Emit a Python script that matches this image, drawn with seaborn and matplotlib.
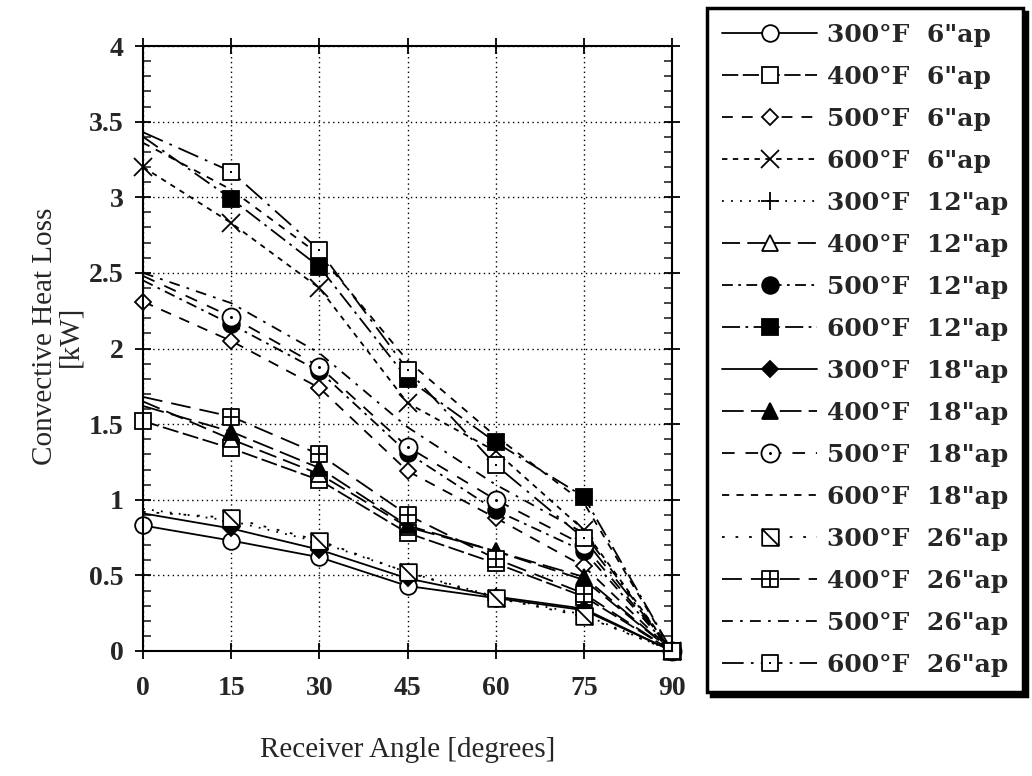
import numpy as np
import pandas as pd
import matplotlib
matplotlib.use("Agg")
import matplotlib.pyplot as plt
import seaborn as sns
from matplotlib.path import Path
from matplotlib.ticker import MultipleLocator, FuncFormatter

# receiver angle [degrees]
angle = [0, 15, 30, 45, 60, 75, 90]

# convective heat loss [kW] per temperature / aperture
loss_300_6 = [0.83, 0.73, 0.62, 0.43, 0.35, 0.27, 0.0]
loss_400_6 = [1.52, 1.34, 1.13, 0.78, 0.58, 0.36, 0.0]
loss_500_6 = [2.31, 2.05, 1.74, 1.19, 0.88, 0.56, 0.0]
loss_600_6 = [3.20, 2.83, 2.40, 1.64, 1.32, 0.80, 0.0]
loss_300_12 = [0.94, 0.86, 0.72, 0.52, 0.36, 0.24, 0.0]
loss_400_12 = [1.65, 1.40, 1.17, 0.82, 0.66, 0.47, 0.0]
loss_500_12 = [2.45, 2.16, 1.85, 1.31, 0.93, 0.66, 0.0]
loss_600_12 = [3.40, 2.99, 2.54, 1.80, 1.38, 1.02, 0.0]
loss_300_18 = [0.91, 0.81, 0.67, 0.48, 0.36, 0.28, 0.0]
loss_400_18 = [1.62, 1.45, 1.21, 0.83, 0.66, 0.49, 0.0]
loss_500_18 = [2.48, 2.21, 1.88, 1.35, 1.00, 0.70, 0.0]
loss_600_18 = [3.36, 3.05, 2.62, 1.92, 1.42, 0.98, 0.0]
loss_300_26 = [0.92, 0.88, 0.73, 0.52, 0.35, 0.23, 0.0]
loss_400_26 = [1.68, 1.55, 1.30, 0.90, 0.61, 0.38, 0.0]
loss_500_26 = [2.50, 2.30, 1.97, 1.48, 1.10, 0.78, 0.0]
loss_600_26 = [3.43, 3.17, 2.65, 1.86, 1.23, 0.745, 0.0]

temps = ["300", "400", "500", "600"]
apertures = ["6", "12", "18", "26"]
x_ticks = [0, 15, 30, 45, 60, 75, 90]
y_ticks = [0, 0.5, 1, 1.5, 2, 2.5, 3, 3.5, 4]


# open square markers with something drawn inside
def box(extra):
    verts = [(-1, -1), (1, -1), (1, 1), (-1, 1), (-1, -1)]
    codes = [Path.MOVETO, Path.LINETO, Path.LINETO, Path.LINETO, Path.CLOSEPOLY]
    for a, b in extra:
        verts += [a, b]
        codes += [Path.MOVETO, Path.LINETO]
    return Path(verts, codes)


dot = [((-0.13, 0), (0.13, 0)), ((0, -0.13), (0, 0.13))]
sq_diag = box([((-1, 1), (1, -1))])
sq_grid = box([((0, -1), (0, 1)), ((-1, 0), (1, 0))])
sq_dot = box(dot)
circ_dot = Path.make_compound_path(
    Path.unit_circle(),
    Path([(-0.13, 0), (0.13, 0), (0, -0.13), (0, 0.13)],
         [Path.MOVETO, Path.LINETO, Path.MOVETO, Path.LINETO]))

# temp, aperture, data, linestyle, marker, filled, markersize
series = [
    ("300", "6", loss_300_6, "-", "o", False, 12),
    ("400", "6", loss_400_6, (0, (9, 2.5)), "s", False, 11),
    ("500", "6", loss_500_6, (0, (6, 5)), "D", False, 8),
    ("600", "6", loss_600_6, (0, (3, 3)), "x", False, 13),
    ("300", "12", loss_300_12, (0, (1, 4)), "+", False, 13),
    ("400", "12", loss_400_12, (0, (10, 4)), "^", False, 11),
    ("500", "12", loss_500_12, (0, (6, 3, 1.5, 3)), "o", True, 12),
    ("600", "12", loss_600_12, (0, (10, 3, 1.5, 3)), "s", True, 12),
    ("300", "18", loss_300_18, "-", "D", True, 8),
    ("400", "18", loss_400_18, (0, (12, 4)), "^", True, 11),
    ("500", "18", loss_500_18, (0, (7, 6)), circ_dot, False, 13),
    ("600", "18", loss_600_18, (0, (4, 4)), None, False, 0),
    ("300", "26", loss_300_26, (0, (1.5, 6)), sq_diag, False, 12),
    ("400", "26", loss_400_26, (0, (11, 5)), sq_grid, False, 12),
    ("500", "26", loss_500_26, (0, (6, 4, 1.5, 4)), None, False, 0),
    ("600", "26", loss_600_26, (0, (12, 4, 1.5, 4)), sq_dot, False, 12),
]

sns.set_style("ticks")
plt.rcParams["font.family"] = ["Liberation Serif", "DejaVu Serif"]

fig = plt.figure(figsize=(10.32, 7.76), dpi=100)
ax = fig.add_axes([143 / 1032, 1 - 651 / 776, (672 - 143) / 1032, (651 - 46) / 776])

labels = []
for t, a, vals, ls, mk, filled, ms in series:
    lab = f'{t}°F  {a}"ap'
    labels.append(lab)
    every = None if a == "6" else slice(1, None)
    sns.lineplot(x=angle, y=vals, ax=ax, color="k", linewidth=1.3, linestyle=ls,
                 marker=mk, markersize=ms, markerfacecolor="k" if filled else "w",
                 markeredgecolor="k", markeredgewidth=1.3, markevery=every,
                 clip_on=False, errorbar=None, legend=False, label=lab)

ax.set_xlim(0, 90)
ax.set_ylim(0, 4)
ax.set_xticks(x_ticks)
ax.set_xticklabels([str(v) for v in x_ticks], fontweight="bold", fontsize=20)
ax.set_yticks(y_ticks)
ax.yaxis.set_major_formatter(FuncFormatter(lambda v, p: "%g" % v))
for lbl in ax.get_yticklabels():
    lbl.set_fontweight("bold")
    lbl.set_fontsize(20)
ax.yaxis.set_minor_locator(MultipleLocator(0.1))

ax.tick_params(which="major", direction="inout", length=12, width=1.3,
               top=True, right=True, color="k")
ax.tick_params(axis="x", which="major", pad=12)
ax.tick_params(axis="y", which="major", pad=8)
ax.tick_params(axis="y", which="minor", direction="in", length=6, width=1.2,
               left=True, right=True)
ax.grid(True, which="major", color="k", linestyle=(0, (1, 2.5)), linewidth=1.0)
ax.set_axisbelow(True)
for sp in ax.spines.values():
    sp.set_linewidth(1.5)
    sp.set_color("k")

ax.set_xlabel("Receiver Angle [degrees]", fontsize=21)
ax.xaxis.set_label_coords(0.5, -0.142)
ax.set_ylabel("Convective Heat Loss\n[kW]", fontsize=21, linespacing=1.0)
ax.yaxis.set_label_coords(-0.112, 0.52)

leg = ax.legend(handles=ax.get_lines(), labels=labels, loc="upper left",
                bbox_to_anchor=(707 / 1032, 1 - 8 / 776), bbox_transform=fig.transFigure,
                prop={"family": "DejaVu Serif", "weight": "bold", "size": 18},
                handlelength=3.8, handletextpad=0.4, labelspacing=0.72,
                borderpad=0.6, borderaxespad=0, numpoints=1,
                frameon=True, fancybox=False, edgecolor="k", framealpha=1,
                shadow={"ox": 3, "oy": -3, "facecolor": "k", "edgecolor": "k", "alpha": 1})
leg.get_frame().set_linewidth(2.5)

fig.savefig("out.png", dpi=100, facecolor="white")
